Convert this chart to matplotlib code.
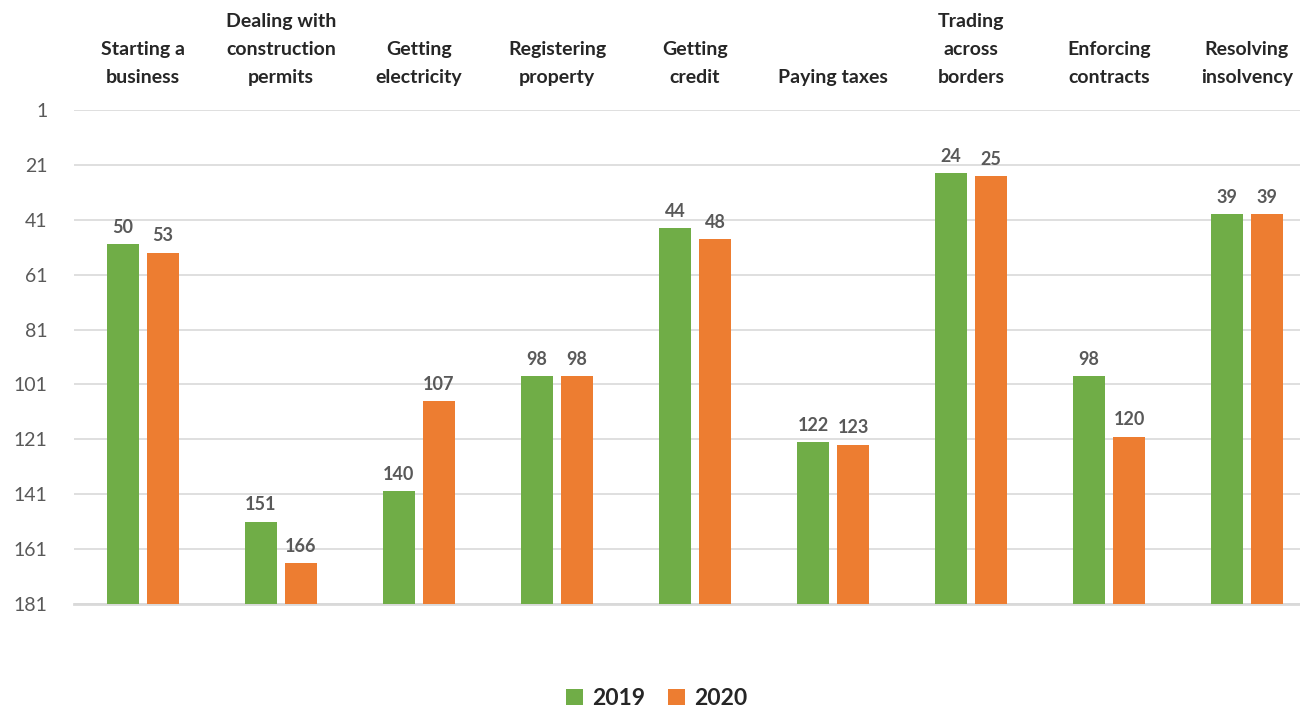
import matplotlib
matplotlib.use("Agg")
import matplotlib.pyplot as plt
import numpy as np

categories = ["Starting a\nbusiness", "Dealing with\nconstruction\npermits", "Getting\nelectricity",
              "Registering\nproperty", "Getting\ncredit", "Paying taxes", "Trading\nacross\nborders",
              "Enforcing\ncontracts", "Resolving\ninsolvency"]
rank_2019 = [50, 151, 140, 98, 44, 122, 24, 98, 39]
rank_2020 = [53, 166, 107, 98, 48, 123, 25, 120, 39]
y_ticks = [1, 21, 41, 61, 81, 101, 121, 141, 161, 181]

plt.rcParams['font.family'] = ['Lato', 'DejaVu Sans']

fig = plt.figure(figsize=(13, 7.14), dpi=100)
ax = fig.add_axes([74/1300, 110/714, 1242/1300, 494/714])

green = "#70AD47"
orange = "#ED7D31"
x = np.arange(len(categories))
off = 0.145
w = 0.225
base = 181
b1 = ax.bar(x - off, [v - base for v in rank_2019], bottom=base, width=w, color=green, label="2019", zorder=3)
b2 = ax.bar(x + off, [v - base for v in rank_2020], bottom=base, width=w, color=orange, label="2020", zorder=3)

for xs, vals in ((x - off, rank_2019), (x + off, rank_2020)):
    for xi, v in zip(xs, vals):
        ax.annotate(str(v), (xi, v), xytext=(0, 6), textcoords="offset points",
                    ha="center", va="bottom", fontsize=13, fontweight="bold", color="#595959")

ax.set_ylim(181, 1)
ax.set_xlim(-0.5, len(categories) - 0.5)
ax.set_yticks(y_ticks)
ax.set_yticklabels([str(t) for t in y_ticks], fontsize=14, color="#595959")
ax.tick_params(axis="y", length=0, pad=19)
ax.yaxis.grid(True, color="#D9D9D9", linewidth=1.2, zorder=0)
ax.set_axisbelow(True)

ax.xaxis.tick_top()
ax.set_xticks(x)
ax.set_xticklabels(categories, fontsize=14, fontweight="bold", color="#262626",
                   multialignment="center", linespacing=1.8)
ax.tick_params(axis="x", length=0, pad=17)

for s in ("top", "left", "right"):
    ax.spines[s].set_visible(False)
ax.spines["bottom"].set_color("#D9D9D9")
ax.spines["bottom"].set_linewidth(2)

leg = fig.legend(handles=[b1, b2], labels=["2019", "2020"], loc="lower center",
                 bbox_to_anchor=(0.505, -0.022), ncol=2, frameon=False,
                 handlelength=0.75, handleheight=0.75, handletextpad=0.4, columnspacing=1.0,
                 prop={"size": 16.5, "weight": "bold"})
for t in leg.get_texts():
    t.set_color("#262626")

fig.savefig("out.png", dpi=100)
